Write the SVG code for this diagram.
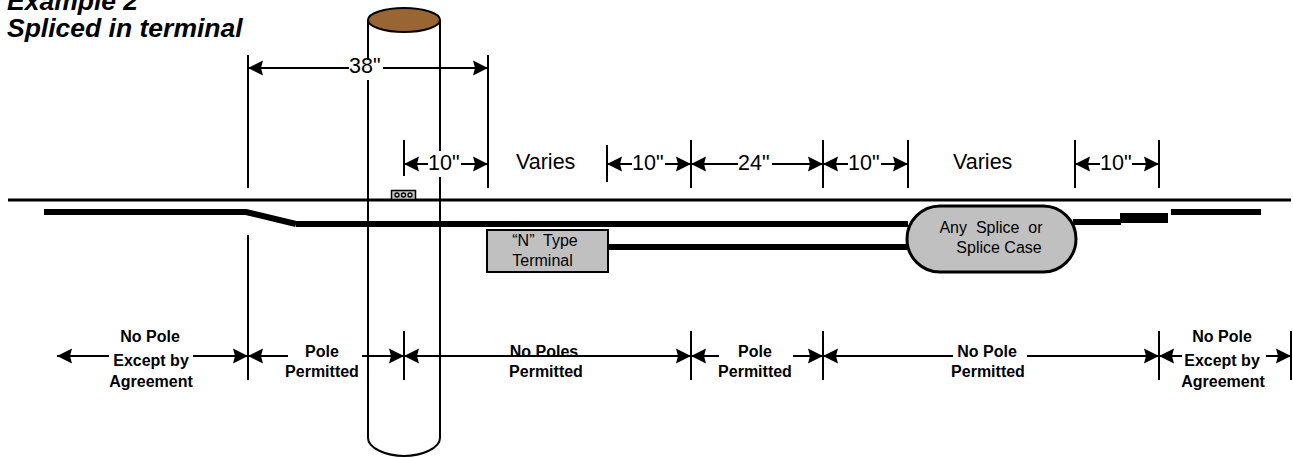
<svg xmlns="http://www.w3.org/2000/svg" width="1293" height="458" viewBox="0 0 1293 458">
<style>
text{font-family:"Liberation Sans",Arial,sans-serif;fill:#000}
.t{font-size:26.500px;font-weight:bold;font-style:italic}
.d{font-size:21.500px}
.s{font-size:16px;text-anchor:middle}
.b{font-size:16px;font-weight:bold;text-anchor:middle}
.l{stroke:#000;stroke-width:2;fill:none}
.m{stroke:#000;stroke-width:3;fill:none}
.th{stroke:#000;stroke-width:6;fill:none}
.a{stroke:#000;stroke-width:2;fill:none;marker-start:url(#ah);marker-end:url(#ah)}
.g{fill:#c0c0c0;stroke:#000;stroke-width:2}
.g3{fill:#c0c0c0;stroke:#000;stroke-width:3}
.w{fill:#fff}
.c{fill:#ddd;stroke:#000;stroke-width:1.300}
</style>
<defs>
<marker id="ah" markerUnits="userSpaceOnUse" markerWidth="16" markerHeight="16" refX="15" refY="8" orient="auto-start-reverse">
<path d="M15 8 L0 0.5 L2 8 L0 15.5 Z" fill="#000"/>
</marker>
</defs>
<g id="title">
<text class="t" x="7" y="10">Example 2</text>
<text class="t" x="7" y="37">Spliced in terminal</text>
</g>
<g id="connectors">
<line class="m" x1="8" y1="200" x2="1291" y2="200"/>
<path class="th" d="M44 212H246L296 224"/>
<line class="th" x1="296" y1="224" x2="908" y2="224"/>
<line class="th" x1="608" y1="247" x2="908" y2="247"/>
<line class="th" x1="1073" y1="222" x2="1121" y2="222"/>
<rect x="1120" y="213" width="48" height="10" fill="#000"/>
<line class="th" x1="1171" y1="212" x2="1261" y2="212"/>
<path class="l" d="M248 55V188M248 235V380M488 55V188M404 140V176M404 331V380"/>
<path class="l" d="M607 145V182M691 140V188M823 140V188M908 140V188M1075 140V188M1159 140V188"/>
<path class="l" d="M691 331V380M823 331V380M1159 331V380M1291 331V380"/>
<line class="a" x1="248" y1="68" x2="488" y2="68"/>
<line class="a" x1="404" y1="164" x2="488" y2="164"/>
<line class="a" x1="607" y1="164" x2="691" y2="164"/>
<line class="a" x1="691" y1="164" x2="823" y2="164"/>
<line class="a" x1="823" y1="164" x2="908" y2="164"/>
<line class="a" x1="1075" y1="164" x2="1159" y2="164"/>
<line class="a" x1="57" y1="356" x2="248" y2="356"/>
<line class="a" x1="248" y1="356" x2="404" y2="356"/>
<line class="a" x1="404" y1="356" x2="691" y2="356"/>
<line class="a" x1="691" y1="356" x2="823" y2="356"/>
<line class="a" x1="823" y1="356" x2="1159" y2="356"/>
<line class="a" x1="1159" y1="356" x2="1291" y2="356"/>
</g>
<g id="pole">
<path class="l" d="M368 20V438C368 448 386 456 404 456C422 456 440 448 440 438V20"/>
<ellipse cx="404" cy="20" rx="36" ry="12" fill="#996633" stroke="#000" stroke-width="2"/>
</g>
<g id="label-38">
<rect class="w" x="349" y="60" width="34" height="20"/>
<text class="d" x="349" y="73">38"</text>
</g>
<g id="label-10a">
<rect class="w" x="428" y="151" width="33" height="26"/>
<text class="d" x="428" y="170">10"</text>
</g>
<g id="label-varies-1"><text class="d" x="516" y="169">Varies</text></g>
<g id="label-10b">
<rect class="w" x="632" y="152" width="33" height="24"/>
<text class="d" x="632" y="170">10"</text>
</g>
<g id="label-24">
<rect class="w" x="738" y="152" width="34" height="24"/>
<text class="d" x="738" y="170">24"</text>
</g>
<g id="label-10c">
<rect class="w" x="848" y="152" width="33" height="24"/>
<text class="d" x="848" y="170">10"</text>
</g>
<g id="label-varies-2"><text class="d" x="953" y="169">Varies</text></g>
<g id="label-10d">
<rect class="w" x="1100" y="152" width="32" height="24"/>
<text class="d" x="1100" y="170">10"</text>
</g>
<g id="drop-box">
<rect x="391.500" y="190.500" width="24" height="9" fill="#c0c0c0" stroke="#000" stroke-width="1.500"/>
<circle class="c" cx="397" cy="195" r="2"/>
<circle class="c" cx="403.500" cy="195" r="2"/>
<circle class="c" cx="410" cy="195" r="2"/>
</g>
<g id="terminal">
<rect class="g" x="487" y="230" width="121" height="42"/>
<text class="s" x="545" y="246" xml:space="preserve">“N”  Type</text>
<text class="s" x="542.500" y="266">Terminal</text>
</g>
<g id="splice">
<rect class="g3" x="907" y="206" width="169" height="66" rx="33" ry="33"/>
<text class="s" x="991" y="233" xml:space="preserve">Any  Splice  or</text>
<text class="s" x="999" y="253">Splice Case</text>
</g>
<g id="zone-1">
<rect class="w" x="109" y="328" width="84" height="63"/>
<text class="b" x="150" y="342">No Pole</text>
<text class="b" x="151" y="366">Except by</text>
<text class="b" x="151" y="387">Agreement</text>
</g>
<g id="zone-2">
<rect class="w" x="288" y="340" width="74" height="44"/>
<text class="b" x="322" y="357">Pole</text>
<text class="b" x="322" y="377">Permitted</text>
</g>
<g id="zone-3">
<text class="b" x="544" y="357">No Poles</text>
<text class="b" x="546" y="377">Permitted</text>
</g>
<g id="zone-4">
<rect class="w" x="719" y="345" width="74" height="38"/>
<text class="b" x="755" y="357">Pole</text>
<text class="b" x="755" y="377">Permitted</text>
</g>
<g id="zone-5">
<rect class="w" x="953" y="345" width="74" height="38"/>
<text class="b" x="987" y="357">No Pole</text>
<text class="b" x="988" y="377">Permitted</text>
</g>
<g id="zone-6">
<rect class="w" x="1182" y="328" width="84" height="63"/>
<text class="b" x="1222" y="342">No Pole</text>
<text class="b" x="1222" y="366">Except by</text>
<text class="b" x="1223" y="387">Agreement</text>
</g>
</svg>
